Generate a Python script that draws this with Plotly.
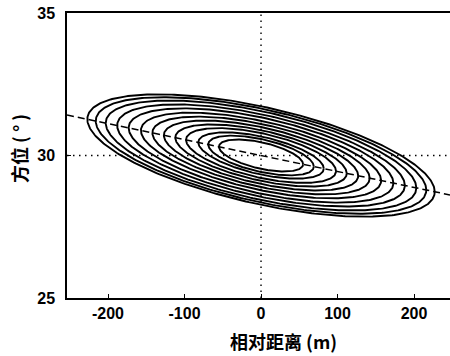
import numpy as np
import plotly.graph_objects as go

# ---- data ----
half_widths_m = [227, 216, 203, 188, 173, 157, 142, 127, 112, 98, 82, 69, 55]        # x half-extent (m)
half_heights_deg = [1.73, 1.65, 1.56, 1.45, 1.34, 1.22, 1.11, 1.00, 0.89, 0.79, 0.67, 0.58, 0.47]  # half-height at centre (deg)
center_x = 0.0        # m
center_y = 30.0       # deg
trend_slope = -0.0056  # deg per m (dashed line through ellipse tips)

x_ticks = [-200, -100, 0, 100, 200]
y_ticks = [25, 30, 35]
x_range = [-253.6, 247.0]
y_range = [25, 35]

fig = go.Figure()

t = np.linspace(0, 2 * np.pi, 361)
for a, h in zip(half_widths_m, half_heights_deg):
    xs = center_x + a * np.cos(t)
    ys = center_y + trend_slope * (xs - center_x) + h * np.sin(t)
    fig.add_trace(go.Scatter(x=xs, y=ys, mode="lines",
                             line=dict(color="black", width=1.9),
                             hoverinfo="skip", showlegend=False))

# dashed trend line
lx = np.array(x_range)
fig.add_trace(go.Scatter(x=lx, y=center_y + trend_slope * (lx - center_x), mode="lines",
                         line=dict(color="black", width=1.5, dash="7px,4px"),
                         hoverinfo="skip", showlegend=False))
# dotted crosshair
fig.add_trace(go.Scatter(x=[center_x, center_x], y=y_range, mode="lines",
                         line=dict(color="black", width=1.4, dash="1.5px,4.5px"),
                         hoverinfo="skip", showlegend=False))
fig.add_trace(go.Scatter(x=x_range, y=[center_y, center_y], mode="lines",
                         line=dict(color="black", width=1.4, dash="1.5px,4.5px"),
                         hoverinfo="skip", showlegend=False))

tickfont = dict(family="Liberation Sans, Arial", size=16, color="black", weight="bold")

fig.update_xaxes(range=x_range, tickvals=x_ticks, ticktext=[str(v) for v in x_ticks],
                 showgrid=False, zeroline=False, showline=True, linecolor="black", linewidth=1.5,
                 mirror=True, ticks="inside", ticklen=4, tickcolor="black", tickwidth=1.2,
                 tickfont=tickfont, automargin=False)
fig.update_yaxes(range=y_range, tickvals=y_ticks, ticktext=[str(v) for v in y_ticks],
                 showgrid=False, zeroline=False, showline=True, linecolor="black", linewidth=1.5,
                 ticks="inside", ticklen=4, tickcolor="black", tickwidth=1.2,
                 tickfont=tickfont, ticklabelstandoff=7, automargin=False)

cjk = dict(family="Noto Sans CJK SC", size=18, color="black", weight="bold")
fig.add_annotation(text="相对距离 (m)", xref="paper", yref="paper", x=0.564, y=-0.152,
                   showarrow=False, font=cjk, xanchor="center", yanchor="middle")
fig.add_annotation(text="方位 ( ° )", xref="paper", yref="paper", x=-0.125, y=0.523,
                   showarrow=False, font=cjk, textangle=-90, xanchor="center", yanchor="middle")

fig.update_layout(width=450, height=356, margin=dict(l=67, r=0, t=13, b=58, autoexpand=False),
                  plot_bgcolor="white", paper_bgcolor="white", showlegend=False)

fig.write_html("out.html", config={"displayModeBar": False},
               post_script="document.body.style.margin='0';document.body.style.padding='0';")
